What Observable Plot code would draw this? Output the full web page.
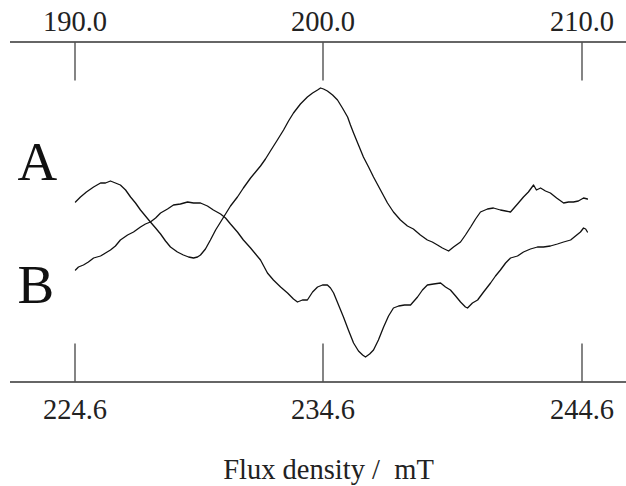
<!DOCTYPE html>
<html><head><meta charset="utf-8">
<script src="https://cdn.jsdelivr.net/npm/d3@7"></script>
<script src="https://cdn.jsdelivr.net/npm/@observablehq/plot@0.6"></script>
<style>
html,body{margin:0;padding:0;background:#fff}
svg{display:block}
svg text{font-family:'Liberation Serif','Times New Roman',Times,serif !important;font-variant-numeric:normal !important}
</style>
</head><body><div id="chart"></div>
<script>
// Top axis (spectrum A) field ticks, mT
const topTicks = [190, 200, 210];
// Bottom axis (spectrum B) field ticks, mT
const bottomTicks = [224.6, 234.6, 244.6];
const fieldOffsetB = 34.6;
const seriesNames = ["A", "B"];
const seriesLabelY = [50, -73];
const axisLabel = "Flux density /\u00a0\u00a0mT";

// Spectrum A: field (mT) and intensity (a.u.)
const fieldA = [190.02,190.22,190.46,190.75,191.03,191.23,191.43,191.63,191.83,192.04,
  192.24,192.44,192.64,192.84,193.04,193.25,193.45,193.65,193.85,194.13,
  194.37,194.58,194.78,194.94,195.06,195.26,195.46,195.67,195.87,196.07,
  196.27,196.55,196.79,197.08,197.28,197.48,197.68,197.88,198.16,198.41,
  198.61,198.81,199.09,199.37,199.58,199.78,199.90,200.02,200.17,200.37,
  200.56,200.75,200.95,201.06,201.18,201.37,201.56,201.76,201.95,202.22,
  202.49,202.72,202.99,203.26,203.49,203.76,204.03,204.22,204.42,204.61,
  204.85,205.04,205.31,205.50,205.70,205.89,206.08,206.35,206.58,206.85,
  207.05,207.24,207.51,207.74,207.93,208.13,208.24,208.40,208.59,208.78,
  209.02,209.29,209.48,209.67,209.86,210.06,210.21];
const ampA = [10,15,20,25,29,29,31,29,27,22,
  15,9,2,-4,-10,-16,-22,-29,-35,-40,
  -43,-45,-46,-45,-43,-37,-28,-18,-10,-2,
  6,15,24,34,40,46,53,61,72,82,
  91,99,108,115,119,122,124,123,121,117,
  112,104,95,87,79,67,55,45,35,22,
  9,0,-8,-14,-17,-23,-28,-30,-33,-36,
  -39,-35,-30,-23,-15,-7,0,3,4,2,
  1,0,8,15,20,27,22,24,21,19,
  14,9,10,10,11,14,13];

// Spectrum B: field (mT) and intensity (a.u.)
const fieldB = [224.62,224.74,224.94,225.14,225.35,225.63,225.83,226.03,226.23,226.43,
  226.72,226.96,227.24,227.44,227.64,227.85,228.05,228.33,228.57,228.85,
  229.14,229.38,229.66,229.94,230.18,230.47,230.67,230.87,231.15,231.39,
  231.68,231.88,232.08,232.36,232.60,232.89,233.17,233.41,233.57,233.77,
  233.97,234.18,234.38,234.58,234.77,234.89,235.01,235.20,235.39,235.58,
  235.78,235.97,236.13,236.24,236.40,236.55,236.74,236.94,237.13,237.32,
  237.52,237.75,237.98,238.25,238.44,238.63,238.87,239.14,239.33,239.52,
  239.72,239.91,240.10,240.18,240.37,240.57,240.80,241.07,241.26,241.45,
  241.65,241.84,242.11,242.34,242.61,242.88,243.11,243.38,243.65,243.89,
  244.16,244.35,244.54,244.66,244.74,244.81];
const ampB = [-58,-55,-53,-50,-46,-44,-41,-38,-34,-28,
  -23,-20,-15,-12,-10,-6,-1,3,7,8,
  10,9,9,6,2,-2,-6,-12,-20,-28,
  -36,-42,-48,-61,-68,-75,-81,-87,-90,-88,
  -88,-80,-75,-73,-73,-76,-81,-93,-105,-118,
  -131,-139,-143,-145,-142,-138,-128,-115,-104,-96,
  -94,-93,-93,-85,-78,-73,-72,-71,-75,-78,
  -84,-90,-95,-96,-91,-88,-80,-71,-64,-58,
  -51,-46,-44,-40,-37,-35,-35,-34,-32,-30,
  -28,-24,-20,-16,-17,-20];

const yDomain = [-170, 170];

const dataA = fieldA.map((f, i) => ({field: f, amp: ampA[i]}));
const dataB = fieldB.map((f, i) => ({field: f - fieldOffsetB, amp: ampB[i]}));
const labels = seriesNames.map((s, i) => ({name: s, y: seriesLabelY[i]}));

const serif = "'Liberation Serif', 'Times New Roman', Times, serif";

const chart = Plot.plot({
  width: 626,
  height: 486,
  marginTop: 41.5,
  marginBottom: 104.5,
  marginLeft: 10,
  marginRight: 0,
  style: {fontFamily: serif, fontSize: "28.5px", background: "#fff", color: "#222"},
  x: {type: "linear", domain: topTicks, range: [74.5, 322.5, 581.5]},
  y: {domain: yDomain, axis: null},
  marks: [
    Plot.ruleY(yDomain, {stroke: "#333", strokeWidth: 1.4}),
    Plot.axisX({anchor: "top", ticks: topTicks, tickSize: -38, tickPadding: 49,
      tickFormat: d => d.toFixed(1), stroke: "#333", strokeWidth: 1.2, fill: "#222", fontSize: 28.5, label: null}),
    Plot.axisX({anchor: "bottom", ticks: topTicks, tickSize: -38, tickPadding: 55,
      tickFormat: (d, i) => bottomTicks[i].toFixed(1), stroke: "#333", strokeWidth: 1.2, fill: "#222", fontSize: 28.5, label: null}),
    Plot.line(dataA, {x: "field", y: "amp", stroke: "#111", strokeWidth: 1.3}),
    Plot.line(dataB, {x: "field", y: "amp", stroke: "#111", strokeWidth: 1.3}),
    Plot.text(labels, {y: "y", text: "name", frameAnchor: "left", textAnchor: "start", dx: 7,
      fontSize: 55, fill: "#111"}),
    Plot.text([axisLabel], {text: d => d, frameAnchor: "bottom", lineAnchor: "bottom", dy: 97, dx: 10,
      fontSize: 28.5, fill: "#222"})
  ]
});
document.getElementById("chart").appendChild(chart);
</script>
</body></html>
